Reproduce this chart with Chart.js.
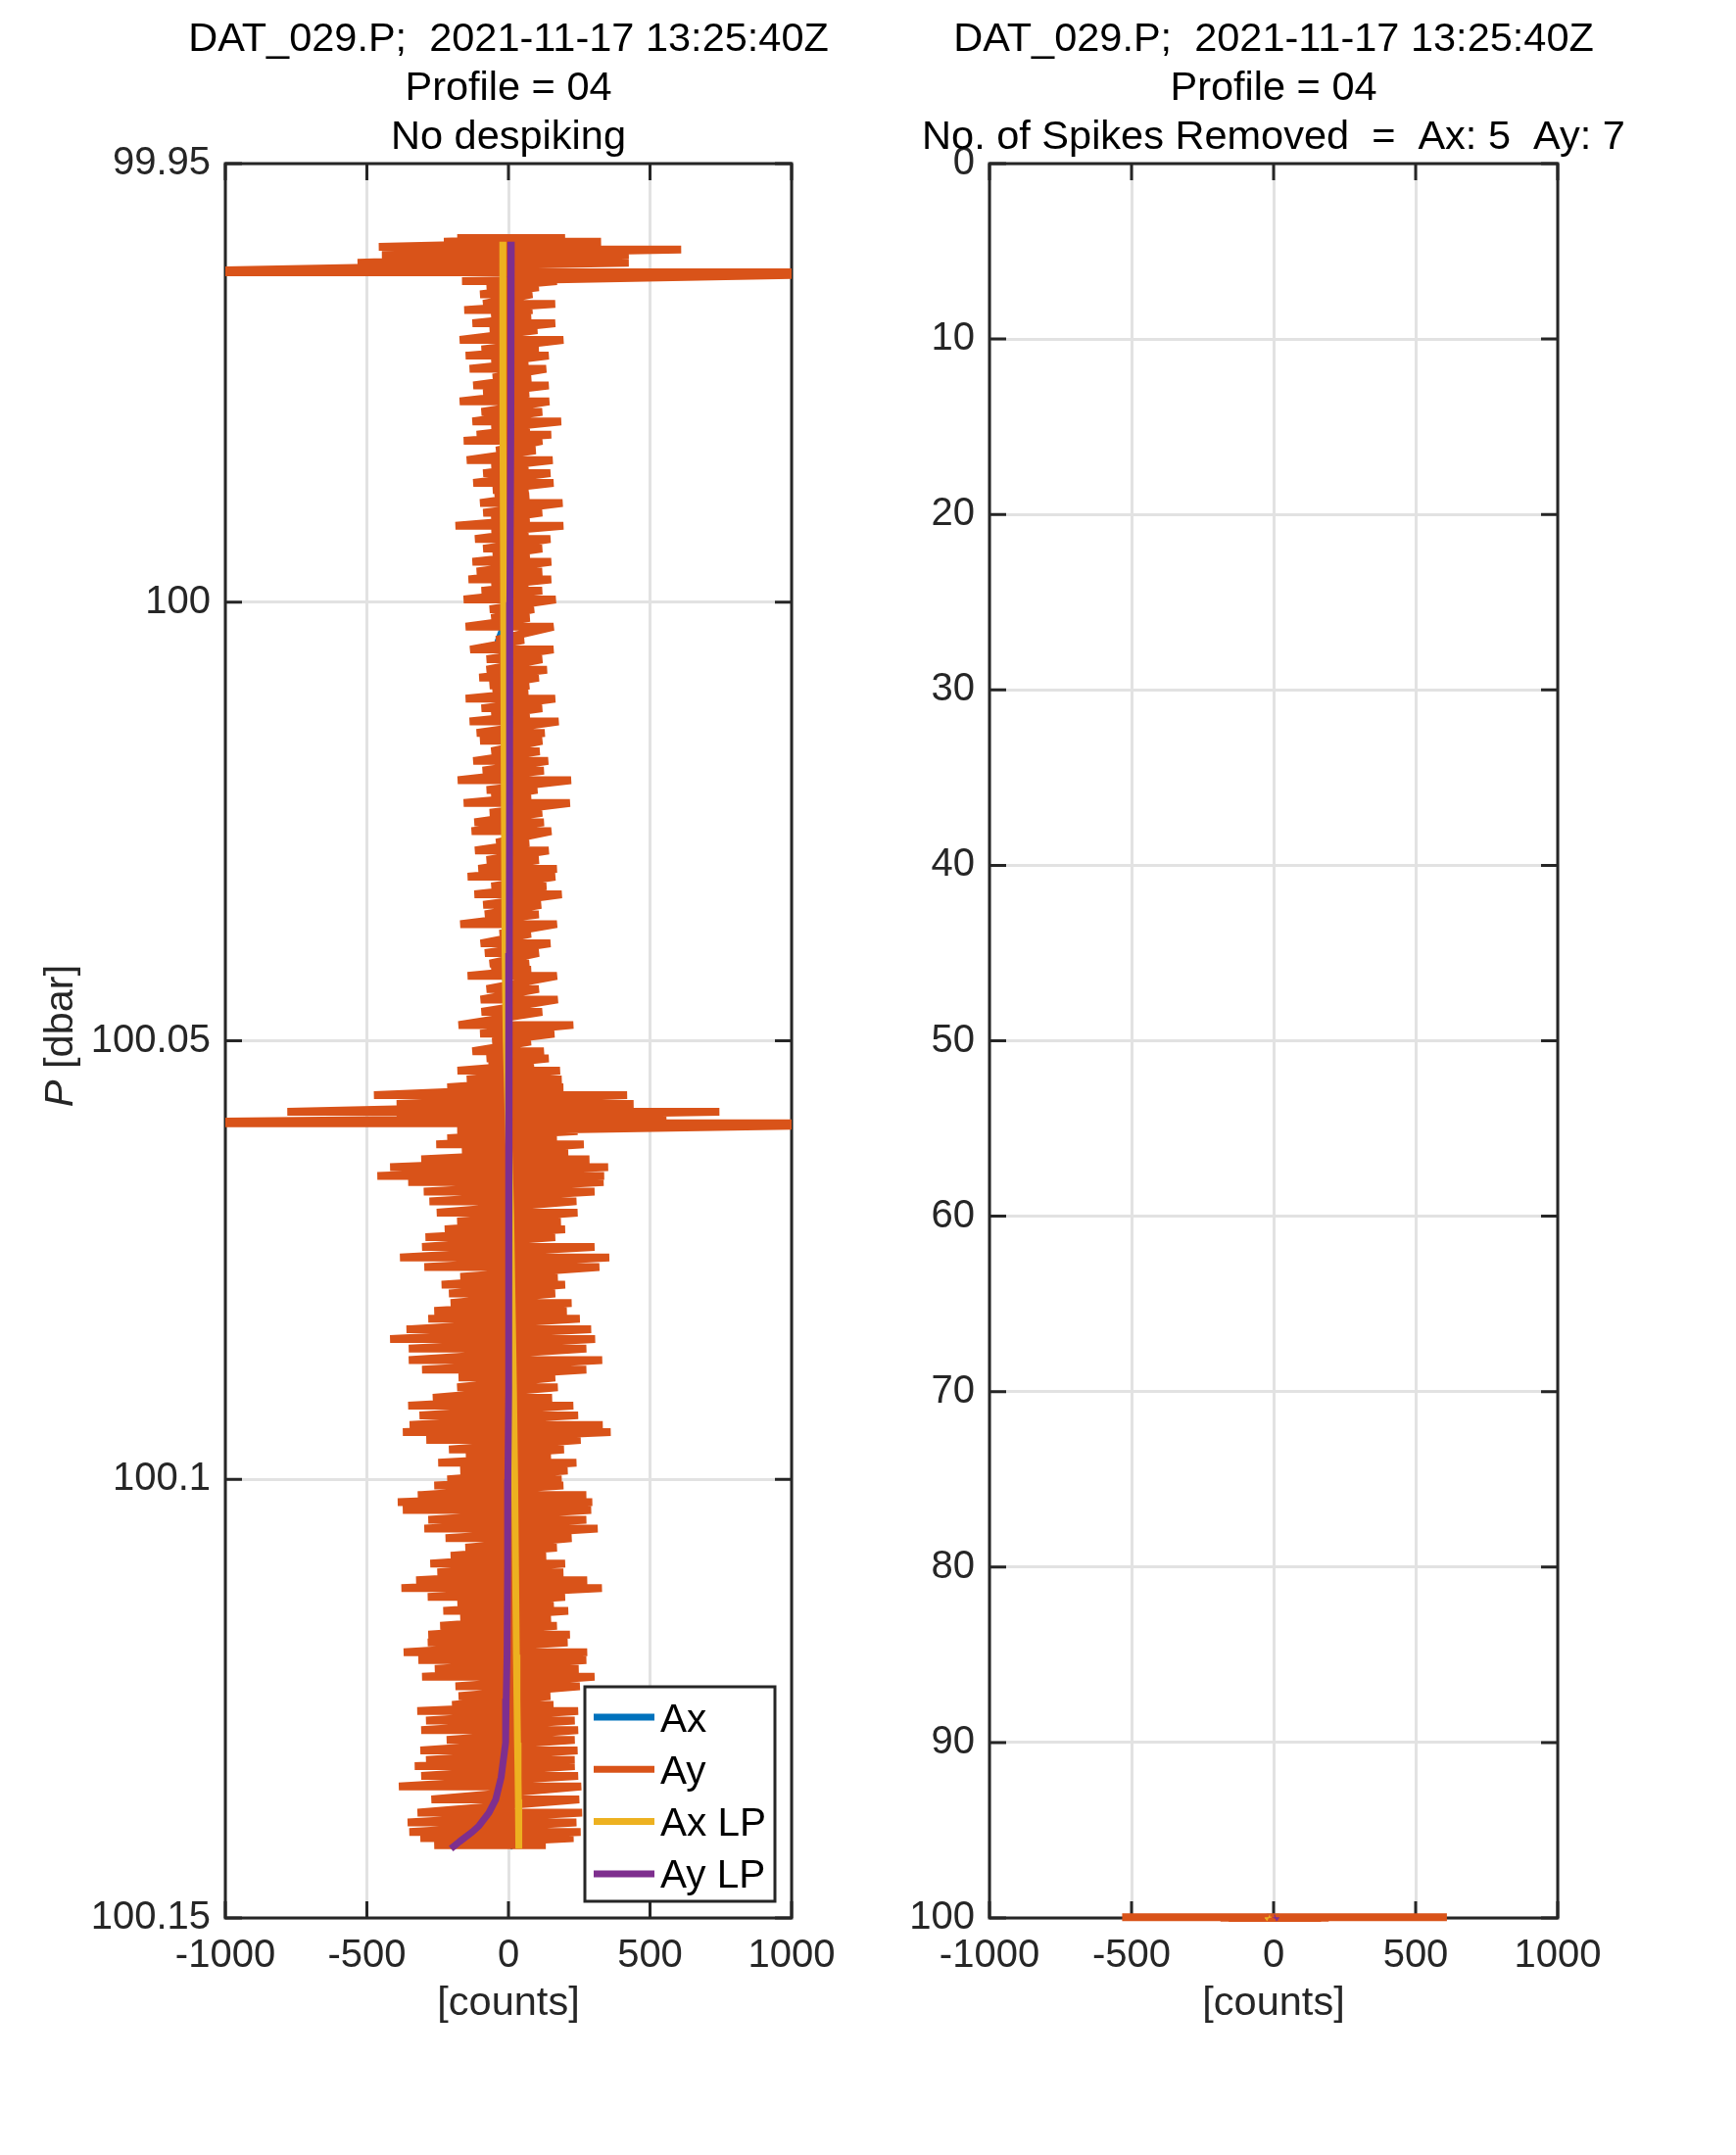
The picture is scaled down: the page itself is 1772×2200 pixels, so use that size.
<!DOCTYPE html>
<html>
<head>
<meta charset="utf-8">
<script src="https://cdn.jsdelivr.net/npm/chart.js@4.4.1/dist/chart.umd.min.js"></script>
<style>
html,body{margin:0;padding:0;background:#fff;}
#wrap{position:relative;width:1772px;height:2200px;background:#fff;}
canvas{position:absolute;top:0;}
</style>
</head>
<body>
<div id="wrap">
<canvas id="c1" width="886" height="2200" style="left:0px"></canvas>
<canvas id="c2" width="886" height="2200" style="left:886px"></canvas>
</div>
<script>
// ---------- text ----------
const titleLine1 = 'DAT_029.P;  2021-11-17 13:25:40Z';
const titleLine2 = 'Profile = 04';
const titleLeft3 = 'No despiking';
const titleRight3 = 'No. of Spikes Removed  =  Ax: 5  Ay: 7';
const xLabel = '[counts]';
const yLabelVar = 'P';
const yLabelRest = ' [dbar]';
const seriesNames = ['Ax', 'Ay', 'Ax LP', 'Ay LP'];
const seriesColors = ['#0072BD', '#D95319', '#EDB120', '#7E2F8E'];

// ---------- ticks ----------
const xTicks = [-1000, -500, 0, 500, 1000];
const yTicksLeft = [99.95, 100, 100.05, 100.1, 100.15];
const yTickLabelsLeft = ['99.95', '100', '100.05', '100.1', '100.15'];
const yTicksRight = [0, 10, 20, 30, 40, 50, 60, 70, 80, 90, 100];

// ---------- Ay signal: [pressure dbar, left excursion, right excursion] ----------
const ayRowsTop = [
  [99.9585,-181,200],[99.9589,-228,327],[99.9595,-458,120],[99.9598,-200,610],
  [99.9604,-447,425],[99.9613,-533,425],[99.9624,-1400,1500],[99.9634,-164,171],
  [99.9641,-77,107],[99.9649,-100,84],[99.9660,-89,165],[99.9667,-156,84],
  [99.9675,-60,80],[99.9682,-127,165],[99.9690,-66,102],[99.9701,-172,194],
  [99.9712,-95,107],[99.9719,-151,142],[99.9727,-60,70],[99.9734,-137,133],
  [99.9744,-55,80],[99.9753,-124,142],[99.9762,-89,73],[99.9771,-172,144],
  [99.9783,-95,119],[99.9794,-127,186],[99.9802,-60,75],[99.9809,-112,151],
  [99.9816,-158,119],[99.9827,-43,96],[99.9838,-147,156],[99.9846,-60,70],
  [99.9853,-89,148],[99.9864,-124,159],[99.9872,-55,70],[99.9879,-48,73],
  [99.9887,-100,191],[99.9898,-89,119],[99.9906,-60,75],[99.9913,-187,194],
  [99.9920,-60,70],[99.9928,-118,148],[99.9939,-89,119],[99.9947,-55,75],
  [99.9954,-127,151],[99.9965,-112,119],[99.9974,-141,151],[99.9981,-60,70],
  [99.9987,-95,119],[99.9997,-158,167],[100.0008,-66,90],[100.0018,-60,75]
];
const ayRowsUpper = [
  [100.0028,-151,159],[100.0043,-43,55],[100.0054,-135,159],[100.0065,-77,119],
  [100.0077,-77,136],[100.0086,-103,107],[100.0095,-66,73],[100.0103,-55,70],
  [100.0110,-151,165],[100.0121,-95,119],[100.0129,-60,75],[100.0136,-137,177],
  [100.0149,-112,128],[100.0158,-100,119],[100.0170,-60,110],[100.0181,-124,140],
  [100.0192,-91,125],[100.0203,-179,221],[100.0214,-77,102],[100.0222,-60,80],
  [100.0229,-158,217],[100.0240,-66,119],[100.0251,-120,125],[100.0261,-130,151],
  [100.0274,-43,73],[100.0283,-118,142],[100.0294,-77,107],[100.0304,-106,171],
  [100.0313,-144,165],[100.0324,-60,134],[100.0333,-120,188],[100.0345,-89,115],
  [100.0356,-83,107],[100.0367,-170,171],[100.0378,-31,79],[100.0389,-98,148],
  [100.0400,-83,107],[100.0412,-66,73],[100.0419,-60,80],[100.0426,-144,171],
  [100.0441,-77,107],[100.0453,-98,174]
];
const ayRowsMiddle = [
  [100.0467,-95,119],[100.0482,-176,229],[100.0492,-100,162],[100.0501,-57,79],
  [100.0512,-127,125],[100.0520,-77,142],[100.0527,-70,90],[100.0534,-180,182],
  [100.0544,-147,188],[100.0553,-216,194],[100.0562,-475,419],[100.0572,-395,442],
  [100.0581,-781,745],[100.0587,-395,558],[100.0594,-1600,1550],[100.0603,-181,244],
  [100.0611,-216,171],[100.0618,-255,266],[100.0627,-164,211],[100.0635,-308,286],
  [100.0644,-418,352],[100.0654,-463,338],[100.0661,-354,336],[100.0672,-299,304],
  [100.0683,-279,240],[100.0696,-253,244],[100.0706,-181,185],[100.0715,-225,200],
  [100.0724,-293,165],[100.0735,-305,304],[100.0747,-383,356],[100.0758,-297,321],
  [100.0769,-170,174],[100.0778,-236,200],[100.0788,-210,165],[100.0799,-204,223],
  [100.0808,-262,206],[100.0817,-283,252],[100.0829,-360,292],[100.0840,-418,306],
  [100.0851,-352,275],[100.0864,-352,331],[100.0875,-305,275],[100.0884,-176,165],
  [100.0895,-181,174],[100.0907,-267,154]
];
const ayRowsLower = [
  [100.0916,-354,229],[100.0927,-314,246],[100.0938,-349,333],[100.0946,-373,361],
  [100.0955,-290,255],[100.0966,-210,196],[100.0974,-150,150],[100.0981,-248,240],
  [100.0990,-170,209],[100.1000,-216,188],[100.1007,-262,194],[100.1018,-320,275],
  [100.1026,-391,296],[100.1035,-373,292],[100.1046,-283,275],[100.1056,-297,315],
  [100.1067,-222,223],[100.1078,-152,171],[100.1087,-204,133],[100.1096,-276,200],
  [100.1106,-251,194],[100.1115,-326,278],[100.1124,-378,330],[100.1134,-285,200],
  [100.1142,-180,160],[100.1150,-230,211],[100.1158,-170,150],[100.1167,-241,171],
  [100.1177,-283,217],[100.1186,-285,209],[100.1197,-370,278],[100.1206,-318,275],
  [100.1216,-260,248],[100.1225,-305,304],[100.1236,-187,252],[100.1247,-176,148],
  [100.1257,-199,159],[100.1264,-322,246],[100.1275,-291,234],[100.1286,-308,246],
  [100.1297,-218,234],[100.1309,-311,244],[100.1320,-291,234],[100.1327,-331,234],
  [100.1338,-308,246],[100.1350,-387,257]
];
const ayRowsBottom = [
  [100.1365,-272,250],[100.1380,-321,260],[100.1391,-356,240],[100.1402,-350,255],
  [100.1409,-311,230],[100.1417,-262,132]
];

// ---------- Ax signal (hidden beneath Ay): [pressure, counts] ----------
const axRows = [
  [99.9589,5],[99.9610,-25],[99.9640,20],[99.9670,-15],[99.9700,25],[99.9730,-20],
  [99.9760,10],[99.9790,-30],[99.9820,15],[99.9850,-10],[99.9880,20],[99.9910,-25],
  [99.9940,10],[99.9970,-15],[100.0000,20],[100.0030,-20],[100.0045,-37],[100.0090,15],
  [100.0120,-10],[100.0150,25],[100.0180,-20],[100.0210,10],[100.0240,-15],[100.0270,20],
  [100.0300,-25],[100.0330,15],[100.0360,-10],[100.0390,25],[100.0420,-20],[100.0450,10],
  [100.0500,-25],[100.0550,30],[100.0600,-30],[100.0650,35],[100.0700,-35],[100.0750,30],
  [100.0800,-30],[100.0850,35],[100.0900,-30],[100.0950,30],[100.1000,-35],[100.1050,35],
  [100.1100,-30],[100.1150,30],[100.1200,-35],[100.1250,35],[100.1300,-30],[100.1350,30],
  [100.1400,-25],[100.1420,20]
];

// ---------- low-passed signals ----------
const pLP  = [99.9589, 99.97, 99.98, 100.0, 100.02, 100.04, 100.05, 100.06, 100.07, 100.08, 100.09, 100.10,
              100.11, 100.12, 100.125, 100.13, 100.134, 100.1365, 100.138, 100.1395, 100.1402, 100.1413, 100.1421];
const axLP = [-20, -20, -19, -17, -15, -12, -8, 0, 8, 13, 18, 22, 25, 28, 30, 32, 34, 35, 36, 36, 37, 37, 37];
const ayLP = [10, 9, 8, 5, 4, 3, 2, 1, 1, 0, 0, -2, -3, -5, -8, -10, -26, -45, -69, -104, -128, -173, -203];

// ---------- build point lists ----------
const ayRows = [].concat(ayRowsTop, ayRowsUpper, ayRowsMiddle, ayRowsLower, ayRowsBottom);
const ayPts = [];
ayRows.forEach(r => { ayPts.push({x: r[1], y: r[0]}); ayPts.push({x: r[2], y: r[0]}); });
const axPts = axRows.map(r => ({x: r[1], y: r[0]}));
const axLPPts = pLP.map((p, i) => ({x: axLP[i], y: p}));
const ayLPPts = pLP.map((p, i) => ({x: ayLP[i], y: p}));

// despiked: spike samples (beyond the +-1000 count range) removed
const spikeLimit = 1000;
const ayDespiked = ayPts.filter(pt => Math.abs(pt.x) <= spikeLimit);
// right panel: only samples inside its 0..100 dbar axis are drawn (MATLAB-style clipping)
const rightMaxP = 100;
const inRight = pts => pts.filter(pt => pt.y <= rightMaxP);

const FONT = '"Liberation Sans", Arial, Helvetica, sans-serif';
Chart.defaults.font.family = FONT;

function makeDatasets(axD, ayD, axLPD, ayLPD, clip) {
  const d = [axD, ayD, axLPD, ayLPD];
  const widths = [7, 8, 7, 7];
  return d.map((data, i) => ({
    label: seriesNames[i],
    data: data,
    showLine: true,
    borderColor: seriesColors[i],
    backgroundColor: seriesColors[i],
    borderWidth: widths[i],
    pointRadius: 0,
    pointHoverRadius: 0,
    tension: 0,
    fill: false,
    order: 4 - i,
    clip: clip,
    borderJoinStyle: 'bevel',
    borderCapStyle: 'butt'
  }));
}

const framePlugin = {
  id: 'frame',
  beforeDatasetsDraw(chart) {
    const {ctx, chartArea: a} = chart;
    const xs = chart.scales.x, ys = chart.scales.y;
    const tl = 17;
    ctx.save();
    ctx.strokeStyle = '#262626';
    ctx.lineWidth = 3;
    ctx.beginPath();
    xs.ticks.forEach(t => {
      const px = xs.getPixelForValue(t.value);
      ctx.moveTo(px, a.bottom); ctx.lineTo(px, a.bottom - tl);
      ctx.moveTo(px, a.top); ctx.lineTo(px, a.top + tl);
    });
    ys.ticks.forEach(t => {
      const py = ys.getPixelForValue(t.value);
      ctx.moveTo(a.left, py); ctx.lineTo(a.left + tl, py);
      ctx.moveTo(a.right, py); ctx.lineTo(a.right - tl, py);
    });
    ctx.stroke();
    ctx.strokeRect(a.left, a.top, a.right - a.left, a.bottom - a.top);
    ctx.restore();
  }
};

// multi-line title centred over the plot area (no width squeezing)
const titlePlugin = {
  id: 'plotTitle',
  afterDraw(chart, args, opts) {
    const {ctx, chartArea: a} = chart;
    const lines = opts.lines || [];
    ctx.save();
    ctx.fillStyle = '#000000';
    ctx.font = '41.5px ' + FONT;
    ctx.textAlign = 'center';
    ctx.textBaseline = 'alphabetic';
    const cx = (a.left + a.right) / 2;
    lines.forEach((s, i) => ctx.fillText(s, cx, a.top - 115.3 + i * 50));
    ctx.restore();
  }
};

const legendPlugin = {
  id: 'boxLegend',
  afterDatasetsDraw(chart) {
    const {ctx, chartArea: a} = chart;
    const w = 194, h = 219;
    const r = a.right - 17, b = a.bottom - 17;
    const l = r - w, t = b - h;
    ctx.save();
    ctx.fillStyle = '#ffffff';
    ctx.fillRect(l, t, w, h);
    chart.data.datasets.forEach((ds, i) => {
      const cy = t + 31 + i * 53.3;
      ctx.strokeStyle = ds.borderColor;
      ctx.lineWidth = 7;
      ctx.lineCap = 'butt';
      ctx.beginPath(); ctx.moveTo(l + 9, cy); ctx.lineTo(l + 71, cy); ctx.stroke();
      ctx.fillStyle = '#000000';
      ctx.font = '40.5px ' + FONT;
      ctx.textAlign = 'left';
      ctx.textBaseline = 'alphabetic';
      ctx.fillText(ds.label, l + 77, cy + 14.5);
    });
    ctx.strokeStyle = '#262626';
    ctx.lineWidth = 3;
    ctx.strokeRect(l, t, w, h);
    ctx.restore();
  }
};

const yLabelPlugin = {
  id: 'yLabel',
  afterDraw(chart) {
    const {ctx, chartArea: a} = chart;
    const fi = 'italic 41.5px ' + FONT, fn = '41.5px ' + FONT;
    ctx.save();
    ctx.fillStyle = '#262626';
    ctx.font = fi; const w1 = ctx.measureText(yLabelVar).width;
    ctx.font = fn; const w2 = ctx.measureText(yLabelRest).width;
    const cy = (a.top + a.bottom) / 2 - 5;
    ctx.translate(a.left - 156, cy);
    ctx.rotate(-Math.PI / 2);
    ctx.textAlign = 'left';
    ctx.textBaseline = 'alphabetic';
    const x0 = -(w1 + w2) / 2;
    ctx.font = fi; ctx.fillText(yLabelVar, x0, 0);
    ctx.font = fn; ctx.fillText(yLabelRest, x0 + w1, 0);
    ctx.restore();
  }
};

function makeOptions(cfg) {
  const gridOpts = { color: '#e2e2e2', lineWidth: 3, drawTicks: false };
  return {
    responsive: false,
    animation: false,
    devicePixelRatio: 1,
    events: [],
    layout: { padding: { left: 0, right: cfg.padRight, top: 167, bottom: 112 } },
    plugins: {
      legend: { display: false },
      tooltip: { enabled: false },
      title: { display: false },
      plotTitle: { lines: cfg.title }
    },
    scales: {
      x: {
        type: 'linear',
        min: -1000, max: 1000,
        afterBuildTicks: s => { s.ticks = xTicks.map(v => ({ value: v })); },
        afterFit: s => { s.height = 130; },
        ticks: { autoSkip: false, maxRotation: 0, minRotation: 0, padding: 15, color: '#262626',
                 font: { size: 40 }, callback: v => String(v) },
        grid: gridOpts,
        border: { display: false },
        title: { display: true, text: xLabel, color: '#262626', font: { size: 41.5 },
                 padding: { top: 0, bottom: 17.5 } }
      },
      y: {
        type: 'linear',
        reverse: true,
        min: cfg.yMin, max: cfg.yMax,
        afterBuildTicks: s => { s.ticks = cfg.yTicks.map(v => ({ value: v })); },
        afterFit: s => { s.width = cfg.yWidth; },
        ticks: { autoSkip: false, padding: 15, color: '#262626', font: { size: 40 },
                 callback: (v, i) => cfg.yLabels[i] },
        grid: gridOpts,
        border: { display: false }
      }
    }
  };
}

new Chart(document.getElementById('c1'), {
  type: 'scatter',
  data: { datasets: makeDatasets(axPts, ayPts, axLPPts, ayLPPts, undefined) },
  options: makeOptions({
    title: [titleLine1, titleLine2, titleLeft3],
    padRight: 78, yWidth: 230,
    yMin: yTicksLeft[0], yMax: yTicksLeft[yTicksLeft.length - 1],
    yTicks: yTicksLeft, yLabels: yTickLabelsLeft
  }),
  plugins: [framePlugin, legendPlugin, yLabelPlugin, titlePlugin]
});

new Chart(document.getElementById('c2'), {
  type: 'scatter',
  data: { datasets: makeDatasets(inRight(axPts), inRight(ayDespiked), inRight(axLPPts), inRight(ayLPPts), false) },
  options: makeOptions({
    title: [titleLine1, titleLine2, titleRight3],
    padRight: 182, yWidth: 124,
    yMin: yTicksRight[0], yMax: yTicksRight[yTicksRight.length - 1],
    yTicks: yTicksRight, yLabels: yTicksRight.map(String)
  }),
  plugins: [framePlugin, titlePlugin]
});
</script>
</body>
</html>
